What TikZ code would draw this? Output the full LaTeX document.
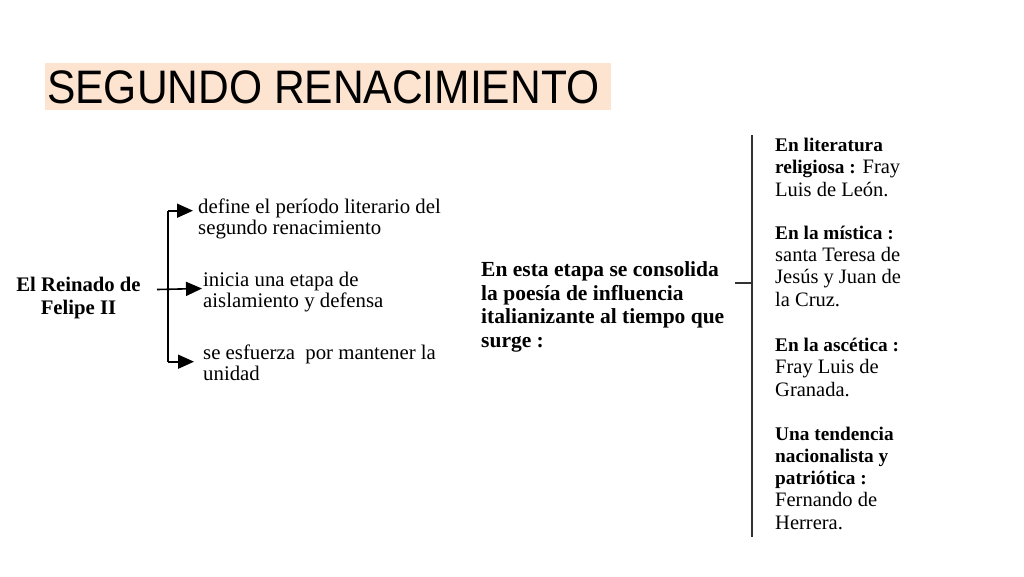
\documentclass[tikz,border=0pt]{standalone}
\usepackage{fontspec}
\setmainfont{Liberation Serif}
\newfontfamily\titlefont{Liberation Sans}
\usetikzlibrary{arrows.meta}
\definecolor{titlebg}{RGB}{252,228,208}
\definecolor{rulegray}{RGB}{50,50,50}
\tikzset{
  txt/.style={anchor=base west, inner sep=0pt, align=left, font=\fontsize{20.8}{20.5}\selectfont},
  rtxt/.style={anchor=base west, inner sep=0pt, align=left, font=\fontsize{20.5}{22.2}\selectfont},
  bld/.style={anchor=base west, inner sep=0pt, align=left, font=\bfseries\fontsize{21.5}{23.4}\selectfont},
  conn/.style={draw=black, line width=1.6pt},
  arr/.style={conn, -{Triangle[length=16pt,width=14pt]}},
}
\newcommand{\rb}[1]{{\bfseries\fontsize{19.3}{22.2}\selectfont #1}}
\begin{document}
\begin{tikzpicture}[x=1pt,y=-1pt]
\useasboundingbox (0,0) rectangle (1024,576);
% title
\fill[titlebg] (45,63) rectangle (611,110);
\node[anchor=base west, inner sep=0pt, font=\titlefont\fontsize{47}{47}\selectfont] (title) at (47,103) {\scalebox{0.905}[1]{SEGUNDO RENACIMIENTO}};
% left
\node[anchor=base, inner sep=0pt, align=center, font=\bfseries\fontsize{20.7}{22.3}\selectfont] (rein) at (78.5,314) {El Reinado de\\Felipe II};
\node[txt] (def) at (198,234) {define el período literario del\\segundo renacimiento};
\node[txt] (ini) at (203,307) {inicia una etapa de\\aislamiento y defensa};
\node[txt] (esf) at (203,380) {se esfuerza\ \ por mantener la\\unidad};
\coordinate (jt) at (168,210.7);
\coordinate (jb) at (168,361.7);
\coordinate (js) at (157,289.5);
\draw[conn] (jt) -- (jb);
\draw[arr] (jt) -- (193,210.7);
\draw[arr] (js) -- (202,288.5);
\draw[arr] (jb) -- (194,361.7);
% middle
\node[bld] (mid) at (481,347) {En esta etapa se consolida\\la poesía de influencia\\italianizante al tiempo que\\surge :};
% right bracket
\coordinate (rt) at (752,135);
\coordinate (rbot) at (752,537);
\coordinate (rm) at (752,283);
\coordinate (rl) at (735,283);
\draw[rulegray, line width=1.5pt] (rt) -- (rbot);
\draw[rulegray, line width=1.5pt] (rl) -- (rm);
% right texts
\node[rtxt] (r1) at (775,196) {\rb{En literatura}\\\rb{religiosa :} Fray\\Luis de León.};
\node[rtxt] (r2) at (775,306) {\rb{En la mística :}\\santa Teresa de\\Jesús y Juan de\\la Cruz.};
\node[rtxt] (r3) at (775,396) {\rb{En la ascética :}\\Fray Luis de\\Granada.};
\node[rtxt] (r4) at (775,529) {\rb{Una tendencia}\\\rb{nacionalista y}\\\rb{patriótica :}\\Fernando de\\Herrera.};
\end{tikzpicture}
\end{document}
